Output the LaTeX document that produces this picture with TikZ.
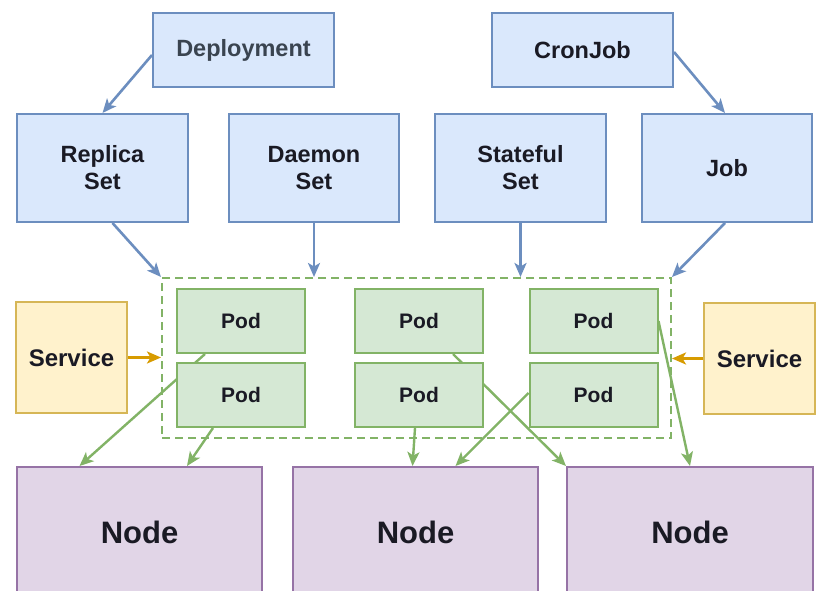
\documentclass[tikz,border=0pt]{standalone}
\usepackage{fontspec}
\setmainfont{Liberation Sans}
\usetikzlibrary{arrows.meta,backgrounds}
\definecolor{bfill}{HTML}{DAE8FC}
\definecolor{bline}{HTML}{6C8EBF}
\definecolor{gfill}{HTML}{D5E8D4}
\definecolor{gline}{HTML}{82B366}
\definecolor{yfill}{HTML}{FFF2CC}
\definecolor{yline}{HTML}{D6B656}
\definecolor{pfill}{HTML}{E1D5E7}
\definecolor{pline}{HTML}{9673A6}
\definecolor{oline}{HTML}{D79B00}
\definecolor{txt}{HTML}{1A1A24}
\definecolor{deptxt}{HTML}{3A4450}
\tikzset{
  box/.style={rectangle, line width=2pt, inner sep=0pt, align=center, text=txt, font=\fontsize{23.5}{27}\selectfont\bfseries},
  ctrl/.style={box, fill=bfill, draw=bline},
  podbox/.style={box, fill=gfill, draw=gline, minimum width=128pt, minimum height=64pt, font=\fontsize{21}{25}\selectfont\bfseries},
  svc/.style={box, fill=yfill, draw=yline, minimum width=111pt, minimum height=111pt, font=\fontsize{24}{27}\selectfont\bfseries},
  host/.style={box, fill=pfill, draw=pline, minimum width=245pt, minimum height=130pt, font=\fontsize{31}{35}\selectfont\bfseries},
  grp/.style={rectangle, draw=gline, line width=2pt, dash pattern=on 8pt off 5pt, minimum width=509pt, minimum height=160pt, inner sep=0pt},
  tip/.style={-{Stealth[length=14pt,width=12pt,inset=3.5pt]}},
  barrow/.style={draw=bline, line width=2.6pt, tip},
  garrow/.style={draw=gline, line width=2.4pt, tip},
  oarrow/.style={draw=oline, line width=2.6pt, tip},
}
\begin{document}
\begin{tikzpicture}[x=1pt,y=-1pt]
\useasboundingbox (0,0) rectangle (816,591);
\clip (0,0) rectangle (816,591);
% top controllers
\node[ctrl, minimum width=181pt, minimum height=74pt, text=deptxt] (dep) at (243.5,50) {Deployment};
\node[ctrl, minimum width=181pt, minimum height=74pt] (cron) at (582.5,50) {CronJob};
\node[ctrl, minimum width=171pt, minimum height=108pt] (rep) at (102.5,168) {Replica\\Set};
\node[ctrl, minimum width=170pt, minimum height=108pt] (dae) at (314,168) {Daemon\\Set};
\node[ctrl, minimum width=171pt, minimum height=108pt] (sts) at (520.5,168) {Stateful\\Set};
\node[ctrl, minimum width=170pt, minimum height=108pt] (job) at (727,168) {Job};
% pod group
\node[grp] (grp) at (416.5,358) {};
\node[podbox] (p1) at (241,321) {Pod};
\node[podbox] (p2) at (241,395) {Pod};
\node[podbox] (p3) at (419,321) {Pod};
\node[podbox] (p4) at (419,395) {Pod};
\node[podbox] (p5) at (593.5,321) {Pod};
\node[podbox] (p6) at (593.5,395) {Pod};
% services
\node[svc] (svl) at (71.5,357.5) {Service};
\node[svc] (svr) at (759.5,358.5) {Service};
% hosts
\node[host] (n1) at (139.5,532) {Node};
\node[host] (n2) at (415.5,532) {Node};
\node[host, minimum width=246pt] (n3) at (690,532) {Node};
% blue arrows
\draw[barrow] ([yshift=-5pt]dep.west) -- (rep.north);
\draw[barrow] ([yshift=-2pt]cron.east) -- ([xshift=-2pt]job.north);
\draw[barrow] ([xshift=10pt]rep.south) -- (grp.north west);
\draw[barrow] (dae.south) -- (dae.south |- grp.north);
\draw[barrow] (sts.south) -- (sts.south |- grp.north);
\draw[barrow] ([xshift=-2pt]job.south) -- (grp.north east);
% service arrows
\draw[oarrow] (svl.east) -- (svl.east -| grp.west);
\draw[oarrow] (svr.west) -- (svr.west -| grp.east);
% green arrows
\begin{pgfonlayer}{background}
\fill[white] (0,0) rectangle (816,591);
\draw[garrow] ([xshift=-36pt]p1.south) -- ([xshift=-60pt]n1.north);
\draw[garrow] ([xshift=34pt]p3.south) -- (n3.north west);
\end{pgfonlayer}
\draw[garrow] ([xshift=-28pt]p2.south) -- ([xshift=47.5pt]n1.north);
\draw[garrow] ([xshift=-4pt]p4.south) -- ([xshift=-3pt]n2.north);
\draw[garrow] ([yshift=2pt]p6.west) -- ([xshift=40pt]n2.north);
\draw[garrow] (p5.east) -- (n3.north);
\end{tikzpicture}
\end{document}
